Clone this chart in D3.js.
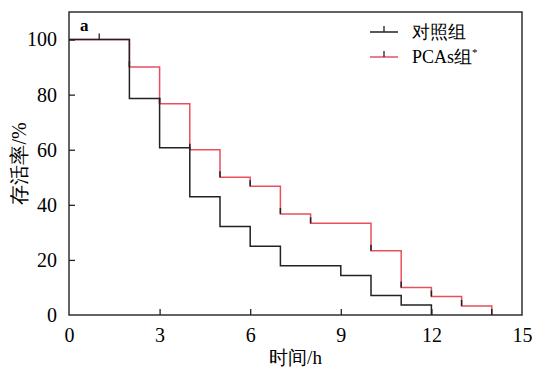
<!DOCTYPE html>
<html><head><meta charset="utf-8">
<script src="https://cdn.jsdelivr.net/npm/d3@7"></script>
<style>body{margin:0;background:#fff}svg{display:block}</style>
</head><body>
<script>
const controlTimes = [0,2,3,4,5,6,7,9,10,11,12];
const controlSurv  = [100,78.6,60.7,42.9,32.1,25,17.9,14.3,7.1,3.6,0];
const controlCensorTimes = [1];
const controlCensorSurv = [100];
const pcasTimes = [0,2,3,4,5,6,7,8,10,11,12,13,14];
const pcasSurv  = [100,90,76.7,60,50,46.7,36.7,33.3,23.3,10,6.7,3.3,0];
const xTicks = [0,3,6,9,12,15];
const yTicks = [0,20,40,60,80,100];
const seriesNames = ["对照组","PCAs组"];

const W=535,H=370, m={l:69,r:13,t:12,b:55};
const svg=d3.select("body").append("svg").attr("width",W).attr("height",H);
const x=d3.scaleLinear().domain([0,15]).range([m.l,W-m.r]);
const y=d3.scaleLinear().domain([0,110]).range([H-m.b,m.t]);
const font='"Liberation Serif"';
const dark="#222", red="#e8505e";

const line=d3.line().x(d=>x(d[0])).y(d=>y(d[1])).curve(d3.curveStepAfter);
const pcas=pcasTimes.map((t,i)=>[t,pcasSurv[i]]);
const ctrl=controlTimes.map((t,i)=>[t,controlSurv[i]]);

svg.append("path").attr("d",line(pcas)).attr("fill","none").attr("stroke",red).attr("stroke-width",1.5);
svg.selectAll(".rt").data(pcas.slice(1)).enter().append("line")
  .attr("x1",d=>x(d[0])).attr("x2",d=>x(d[0]))
  .attr("y1",d=>y(d[1])).attr("y2",d=>y(d[1])-6)
  .attr("stroke",dark).attr("stroke-width",1.5);
svg.append("path").attr("d",line(ctrl)).attr("fill","none").attr("stroke",dark).attr("stroke-width",1.5);
svg.selectAll(".ct").data(controlCensorTimes.map((t,i)=>[t,controlCensorSurv[i]])).enter().append("line")
  .attr("x1",d=>x(d[0])).attr("x2",d=>x(d[0]))
  .attr("y1",d=>y(d[1])).attr("y2",d=>y(d[1])-6)
  .attr("stroke",dark).attr("stroke-width",1.3);

svg.append("rect").attr("x",x(0)).attr("y",y(110)).attr("width",x(15)-x(0)).attr("height",y(0)-y(110))
  .attr("fill","none").attr("stroke",dark).attr("stroke-width",1.4);

const xa=svg.append("g").attr("transform",`translate(0,${y(0)})`)
  .call(d3.axisBottom(x).tickValues(xTicks).tickSize(-6).tickPadding(13).tickFormat(d3.format("d")));
const ya=svg.append("g").attr("transform",`translate(${x(0)},0)`)
  .call(d3.axisLeft(y).tickValues(yTicks).tickSize(-6).tickPadding(12).tickFormat(d3.format("d")));
[xa,ya].forEach(g=>{
  g.attr("font-family",null).attr("font-size",null);
  g.select(".domain").remove();
  g.selectAll(".tick line").attr("stroke",dark).attr("stroke-width",1.3);
  g.selectAll("text").style("font-family",font).style("font-size","20px").attr("fill","#000");
});
xa.selectAll(".tick").filter(d=>d===0||d===15).select("line").remove();
ya.selectAll(".tick").filter(d=>d===0).select("line").remove();

svg.append("text").attr("x",(x(0)+x(15))/2).attr("y",364).attr("text-anchor","middle")
  .style("font-family",font).style("font-size","19px").text("时间/h");
svg.append("text").attr("transform",`translate(26,${(y(0)+y(110))/2}) rotate(-90)`).attr("text-anchor","middle")
  .style("font-family",font).style("font-size","20px").text("存活率/%");

svg.append("text").attr("x",80).attr("y",31).style("font-family",font).style("font-weight","bold").style("font-size","17px").text("a");

const lg=[{c:dark,name:seriesNames[0],yy:32},{c:red,name:seriesNames[1],yy:57}];
lg.forEach((d,i)=>{
  svg.append("line").attr("x1",370).attr("x2",398).attr("y1",d.yy).attr("y2",d.yy).attr("stroke",d.c).attr("stroke-width",1.5);
  svg.append("line").attr("x1",384).attr("x2",384).attr("y1",d.yy).attr("y2",d.yy-6).attr("stroke",dark).attr("stroke-width",1.3);
  const t=svg.append("text").attr("x",412).attr("y",d.yy+6).style("font-family",font).style("font-size","18px").text(d.name);
  if(i===1) t.append("tspan").attr("dy",-7).style("font-size","11px").text("*");
});
</script>
</body></html>
